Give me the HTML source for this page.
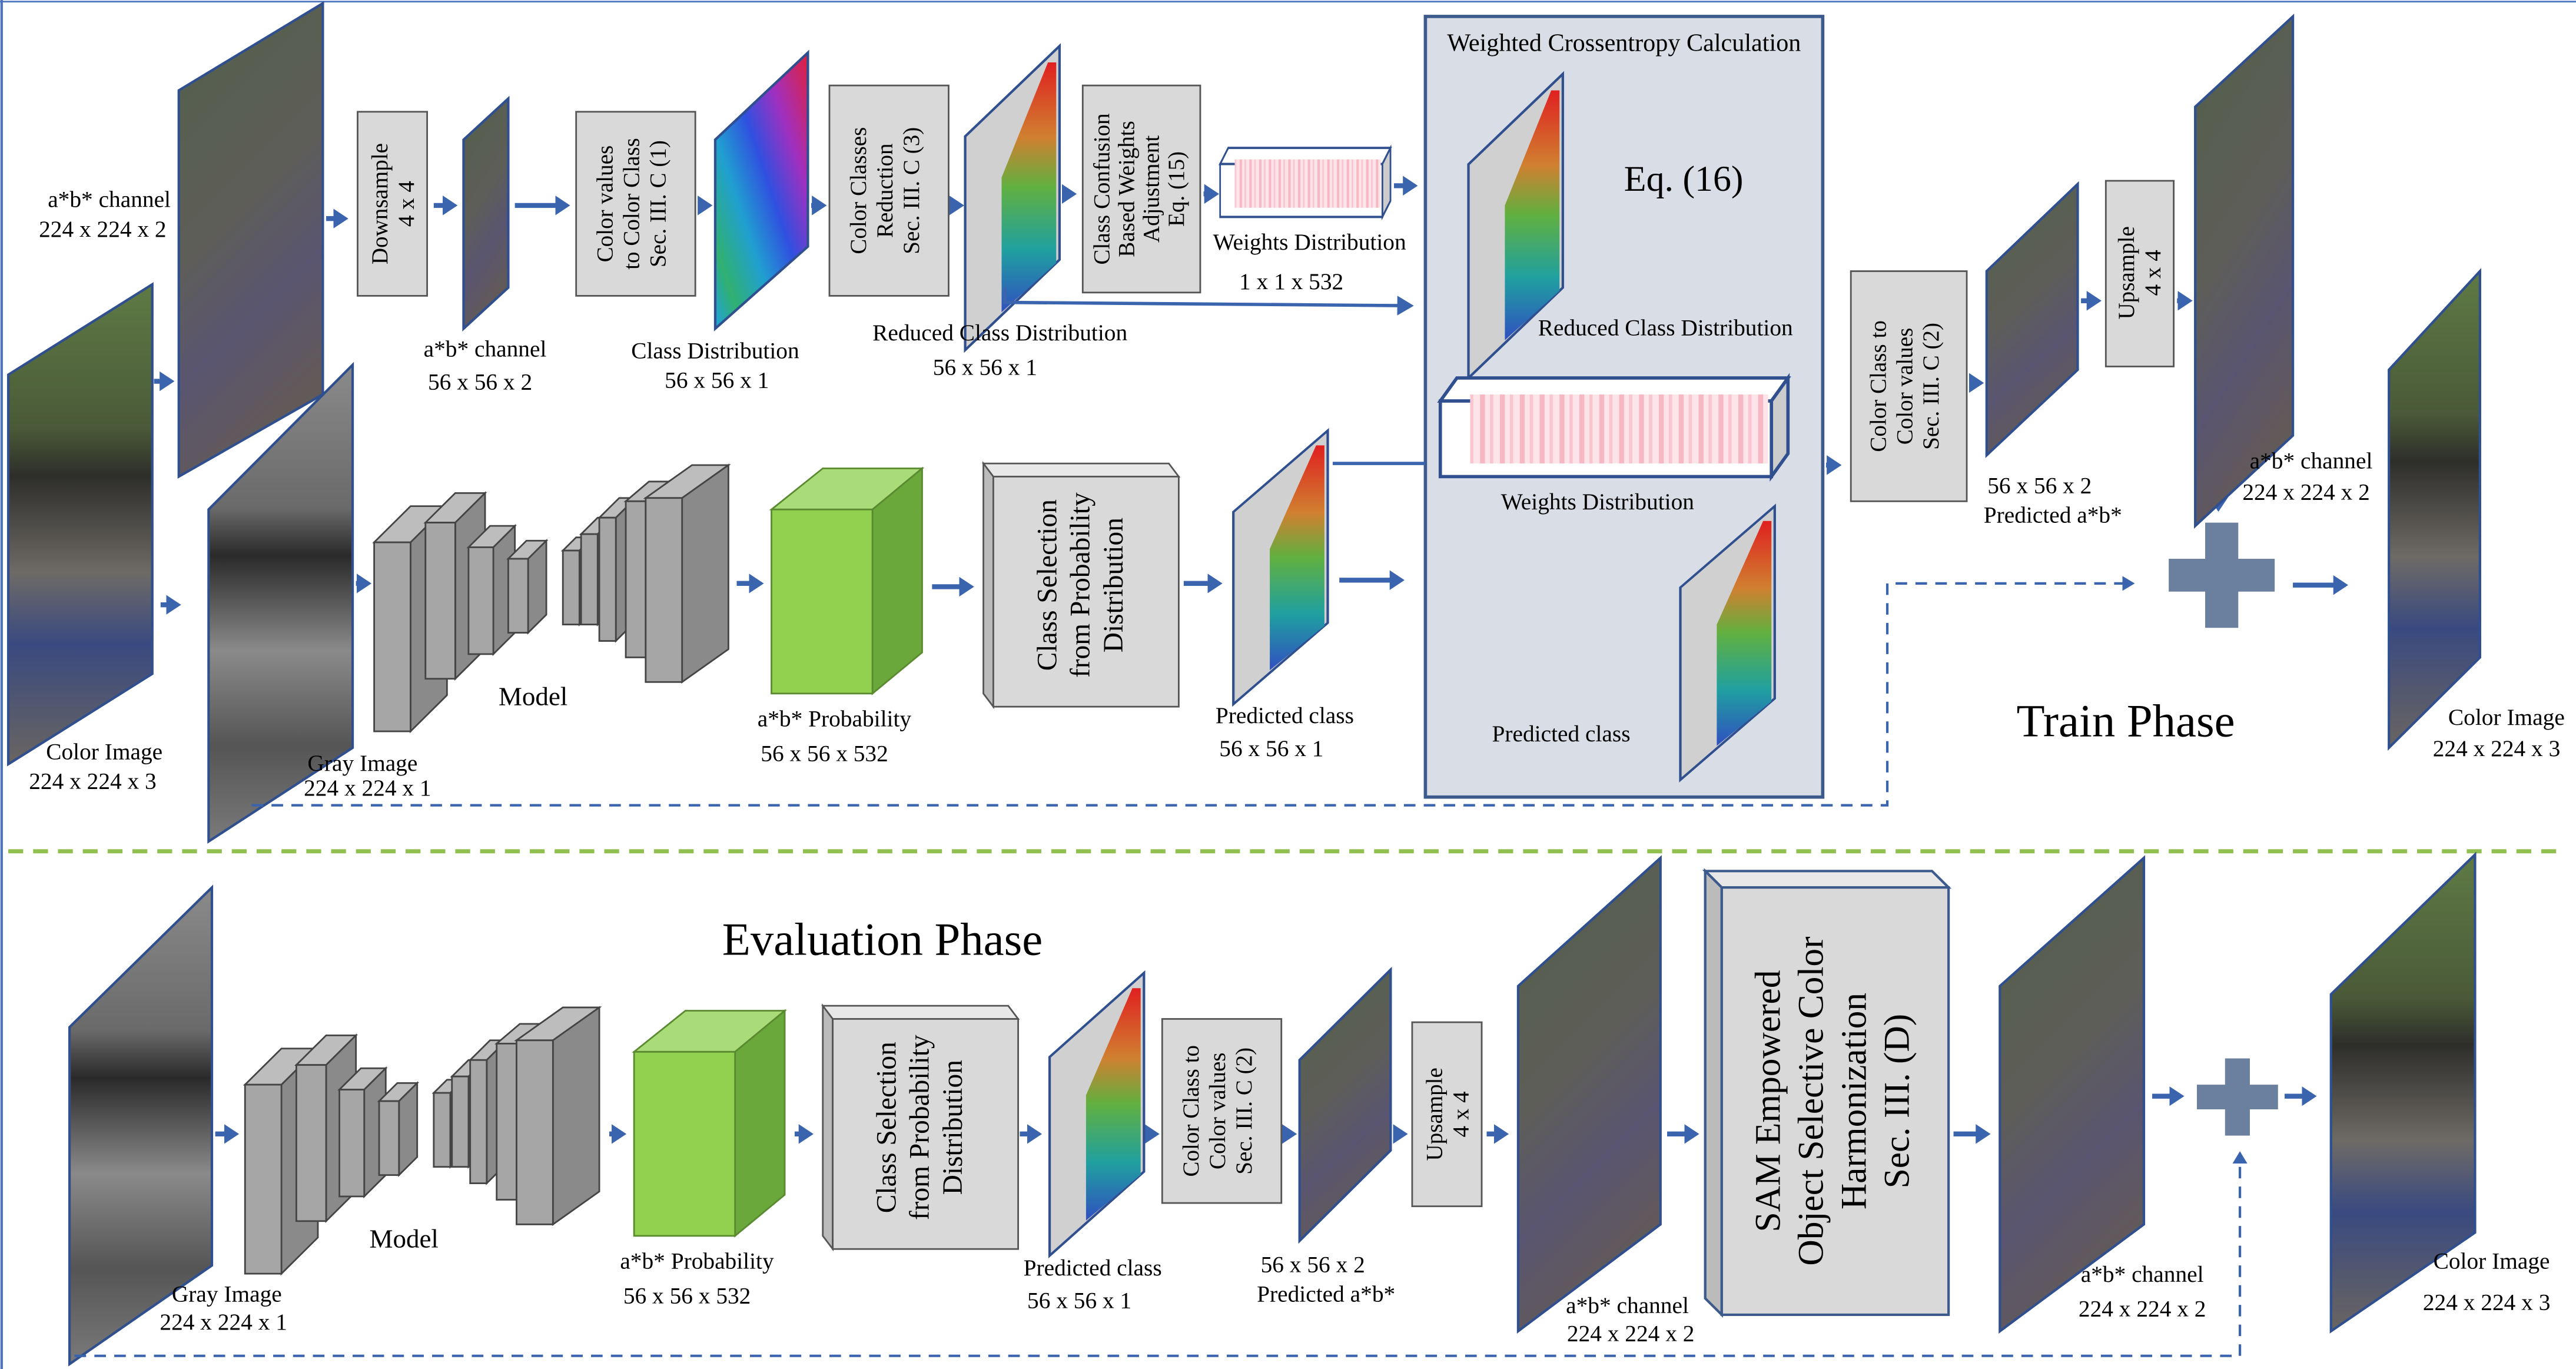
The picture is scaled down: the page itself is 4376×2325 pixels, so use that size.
<!DOCTYPE html>
<html><head><meta charset="utf-8"><style>
html,body{margin:0;padding:0;background:#fff;}
svg{display:block;}
text{font-family:"Liberation Serif",serif;fill:#000;}
</style></head><body>
<svg width="4376" height="2325" viewBox="0 0 1556 833" preserveAspectRatio="none" xmlns="http://www.w3.org/2000/svg">
<defs>
<marker id="ah" markerWidth="4" markerHeight="4" refX="2.2" refY="2" orient="auto" markerUnits="strokeWidth"><path d="M0,0 L3,2 L0,4 z" fill="#3a64ad"/></marker>
<marker id="ah2" markerWidth="6" markerHeight="6" refX="4" refY="3" orient="auto" markerUnits="strokeWidth"><path d="M0,0 L5,3 L0,6 z" fill="#3a64ad"/></marker>
<linearGradient id="ab" x1="0" y1="0" x2="0.3" y2="1"><stop offset="0" stop-color="#52604a"/><stop offset="0.5" stop-color="#5e5e58"/><stop offset="0.75" stop-color="#5a5570"/><stop offset="1" stop-color="#625a58"/></linearGradient>
<linearGradient id="col" x1="0" y1="0" x2="0" y2="1"><stop offset="0" stop-color="#5f7a45"/><stop offset="0.3" stop-color="#4a5a38"/><stop offset="0.4" stop-color="#2e2e2a"/><stop offset="0.6" stop-color="#6e6a66"/><stop offset="0.75" stop-color="#3a4a80"/><stop offset="1" stop-color="#6a6560"/></linearGradient>
<linearGradient id="gry" x1="0" y1="0" x2="0" y2="1"><stop offset="0" stop-color="#8a8a8a"/><stop offset="0.3" stop-color="#6a6a6a"/><stop offset="0.4" stop-color="#2a2a2a"/><stop offset="0.6" stop-color="#8a8a8a"/><stop offset="0.8" stop-color="#555"/><stop offset="1" stop-color="#7a7a7a"/></linearGradient>
<linearGradient id="cd" x1="1" y1="0" x2="0" y2="1"><stop offset="0" stop-color="#e0203a"/><stop offset="0.25" stop-color="#a030c0"/><stop offset="0.45" stop-color="#3050e0"/><stop offset="0.65" stop-color="#20a0d0"/><stop offset="0.85" stop-color="#30b070"/><stop offset="1" stop-color="#20a0e0"/></linearGradient>
<linearGradient id="rd" x1="0" y1="0" x2="0" y2="1"><stop offset="0" stop-color="#e02020"/><stop offset="0.3" stop-color="#d08030"/><stop offset="0.5" stop-color="#60b040"/><stop offset="0.75" stop-color="#20a0a0"/><stop offset="1" stop-color="#3050c0"/></linearGradient>
<pattern id="bars" width="12" height="10" patternUnits="userSpaceOnUse"><rect width="12" height="10" fill="#fde4e8"/><rect x="0" width="3" height="10" fill="#f7b8c4"/><rect x="6" width="2" height="10" fill="#f9c6d0"/></pattern>
<g id="dist">
<polygon points="0,55 57,0 57,130 0,185" fill="#d0d0d0" stroke="#2f4f8f" stroke-width="1.5"/>
<polygon points="22,80 50,10 55,10 55,132 22,162" fill="url(#rd)"/>
</g>
<g id="wbox">
<polygon points="0,14 10,0 210,0 200,14" fill="#fff" stroke="#2f4f8f" stroke-width="2"/>
<polygon points="200,14 210,0 210,46 200,60" fill="#ccc" stroke="#2f4f8f" stroke-width="2"/>
<rect x="0" y="14" width="200" height="46" fill="#fff" stroke="#2f4f8f" stroke-width="2"/>
<rect x="18" y="10" width="180" height="42" fill="url(#bars)"/>
</g>
</defs>

<line x1="1" y1="0" x2="1" y2="833" stroke="#4a74c0" stroke-width="1.5"/>
<line x1="0" y1="1" x2="1556" y2="1" stroke="#4a74c0" stroke-width="1"/>
<line x1="5" y1="518" x2="1550" y2="518" stroke="#92c050" stroke-width="2.5" stroke-dasharray="9,6"/>

<!-- ===== TOP ===== -->
<polygon points="108,55 195,2 195,240 108,290" fill="url(#ab)" stroke="#2f4f8f" stroke-width="1.5"/>
<text x="66" y="126" font-size="14" text-anchor="middle">a*b* channel</text>
<text x="62" y="144" font-size="14" text-anchor="middle">224 x 224 x 2</text>
<polygon points="5,228 92,173 92,410 5,465" fill="url(#col)" stroke="#2f4f8f" stroke-width="1.5"/>
<text x="63" y="462" font-size="14" text-anchor="middle">Color Image</text>
<text x="56" y="480" font-size="14" text-anchor="middle">224 x 224 x 3</text>
<g stroke="#3a64ad" stroke-width="3" marker-end="url(#ah)">
<line x1="93" y1="232" x2="103" y2="232"/>
<line x1="97" y1="368" x2="107" y2="368"/>
<line x1="197" y1="133" x2="208" y2="133"/>
<line x1="262" y1="125" x2="274" y2="125"/>
<line x1="311" y1="125" x2="342" y2="125"/>
<line x1="422" y1="125" x2="428" y2="125"/>
<line x1="490" y1="125" x2="497" y2="125"/>
<line x1="575" y1="125" x2="580" y2="125"/>
<line x1="642" y1="118" x2="648" y2="118"/>
<line x1="727" y1="118" x2="734" y2="118"/>
<line x1="842" y1="113" x2="854" y2="113"/>
<line x1="1103" y1="283" x2="1110" y2="283"/>
<line x1="1190" y1="233" x2="1196" y2="233"/>
<line x1="1257" y1="183" x2="1267" y2="183"/>
<line x1="1315" y1="183" x2="1322" y2="183"/>
<line x1="1340" y1="301" x2="1340" y2="309"/>
<line x1="1385" y1="356" x2="1416" y2="356"/>
<line x1="215" y1="355" x2="222" y2="355"/>
<line x1="445" y1="355" x2="459" y2="355"/>
<line x1="563" y1="357" x2="586" y2="357"/>
<line x1="715" y1="355" x2="736" y2="355"/>
<line x1="809" y1="353" x2="846" y2="353"/>
<line x1="130" y1="690" x2="142" y2="690"/>
<line x1="368" y1="690" x2="376" y2="690"/>
<line x1="480" y1="690" x2="489" y2="690"/>
<line x1="616" y1="690" x2="627" y2="690"/>
<line x1="693" y1="690" x2="698" y2="690"/>
<line x1="776" y1="690" x2="781" y2="690"/>
<line x1="842" y1="690" x2="848" y2="690"/>
<line x1="898" y1="690" x2="909" y2="690"/>
<line x1="1007" y1="690" x2="1024" y2="690"/>
<line x1="1180" y1="690" x2="1200" y2="690"/>
<line x1="1300" y1="667" x2="1317" y2="667"/>
<line x1="1380" y1="667" x2="1397" y2="667"/>
</g>

<rect x="216" y="68" width="42" height="112" fill="#d9d9d9" stroke="#555"/>
<text transform="translate(237,124) rotate(-90)" font-size="14" text-anchor="middle"><tspan x="0" dy="-3">Downsample</tspan><tspan x="0" dy="16">4 x 4</tspan></text>
<polygon points="280,85 307,60 307,175 280,200" fill="url(#ab)" stroke="#2f4f8f" stroke-width="1.5"/>
<text x="293" y="217" font-size="14" text-anchor="middle">a*b* channel</text>
<text x="290" y="237" font-size="14" text-anchor="middle">56 x 56 x 2</text>
<rect x="348" y="68" width="72" height="112" fill="#d9d9d9" stroke="#555"/>
<text transform="translate(384,124) rotate(-90)" font-size="14" text-anchor="middle"><tspan x="0" dy="-14">Color values</tspan><tspan x="0" dy="16">to Color Class</tspan><tspan x="0" dy="16">Sec. III. C (1)</tspan></text>
<polygon points="432,85 488,32 488,150 432,200" fill="url(#cd)" stroke="#2f4f8f" stroke-width="1.5"/>
<text x="432" y="218" font-size="14" text-anchor="middle">Class Distribution</text>
<text x="433" y="236" font-size="14" text-anchor="middle">56 x 56 x 1</text>
<rect x="501" y="52" width="72" height="128" fill="#d9d9d9" stroke="#555"/>
<text transform="translate(537,116) rotate(-90)" font-size="14" text-anchor="middle"><tspan x="0" dy="-14">Color Classes</tspan><tspan x="0" dy="16">Reduction</tspan><tspan x="0" dy="16">Sec. III. C (3)</tspan></text>
<use href="#dist" transform="translate(583,28)"/>
<text x="604" y="207" font-size="14" text-anchor="middle">Reduced Class Distribution</text>
<text x="595" y="228" font-size="14" text-anchor="middle">56 x 56 x 1</text>
<rect x="654" y="52" width="71" height="126" fill="#d9d9d9" stroke="#555"/>
<text transform="translate(690,115) rotate(-90)" font-size="14" text-anchor="middle"><tspan x="0" dy="-20">Class Confusion</tspan><tspan x="0" dy="15">Based Weights</tspan><tspan x="0" dy="15">Adjustment</tspan><tspan x="0" dy="15">Eq. (15)</tspan></text>
<use href="#wbox" transform="translate(737,90) scale(0.49,0.7)"/>
<text x="791" y="152" font-size="14" text-anchor="middle">Weights Distribution</text>
<text x="780" y="176" font-size="14" text-anchor="middle">1 x 1 x 532</text>
<polyline points="607,175 607,184 852,186" fill="none" stroke="#3a64ad" stroke-width="2" marker-end="url(#ah2)"/>

<rect x="861" y="10" width="240" height="475" fill="#d9dde6" stroke="#3c5a8c" stroke-width="2"/>
<text x="981" y="31" font-size="15" text-anchor="middle">Weighted Crossentropy Calculation</text>
<text x="1017" y="116" font-size="22" text-anchor="middle">Eq. (16)</text>
<use href="#dist" transform="translate(887,45)"/>
<text x="1006" y="204" font-size="14" text-anchor="middle">Reduced Class Distribution</text>
<use href="#wbox" transform="translate(870,230)"/>
<text x="965" y="310" font-size="14" text-anchor="middle">Weights Distribution</text>
<use href="#dist" transform="translate(1015,308) scale(1,0.9)"/>
<text x="943" y="451" font-size="14" text-anchor="middle">Predicted class</text>
<line x1="805" y1="282" x2="861" y2="282" stroke="#3a64ad" stroke-width="2"/>

<rect x="1118" y="165" width="70" height="140" fill="#d9d9d9" stroke="#555"/>
<text transform="translate(1153,235) rotate(-90)" font-size="14" text-anchor="middle"><tspan x="0" dy="-14">Color Class to</tspan><tspan x="0" dy="16">Color values</tspan><tspan x="0" dy="16">Sec. III. C (2)</tspan></text>
<polygon points="1200,165 1255,112 1255,225 1200,277" fill="url(#ab)" stroke="#2f4f8f" stroke-width="1.5"/>
<text x="1232" y="300" font-size="14" text-anchor="middle">56 x 56 x 2</text>
<text x="1240" y="318" font-size="14" text-anchor="middle">Predicted a*b*</text>
<rect x="1272" y="110" width="41" height="113" fill="#d9d9d9" stroke="#555"/>
<text transform="translate(1292,166) rotate(-90)" font-size="14" text-anchor="middle"><tspan x="0" dy="-3">Upsample</tspan><tspan x="0" dy="16">4 x 4</tspan></text>
<polygon points="1326,65 1385,10 1385,265 1326,320" fill="url(#ab)" stroke="#2f4f8f" stroke-width="1.5"/>
<text x="1396" y="285" font-size="14" text-anchor="middle">a*b* channel</text>
<text x="1393" y="304" font-size="14" text-anchor="middle">224 x 224 x 2</text>
<path d="M1332,318 h20 v22 h22 v20 h-22 v22 h-20 v-22 h-22 v-20 h22 z" fill="#6b7f9f"/>
<polygon points="1443,225 1498,165 1498,400 1443,455" fill="url(#col)" stroke="#2f4f8f" stroke-width="1.5"/>
<text x="1514" y="441" font-size="14" text-anchor="middle">Color Image</text>
<text x="1508" y="460" font-size="14" text-anchor="middle">224 x 224 x 3</text>
<text x="1284" y="448" font-size="28" text-anchor="middle">Train Phase</text>

<polygon points="126,310 213,222 213,455 126,512" fill="url(#gry)" stroke="#2f4f8f" stroke-width="1.5"/>
<text x="219" y="469" font-size="14" text-anchor="middle">Gray Image</text>
<text x="222" y="484" font-size="14" text-anchor="middle">224 x 224 x 1</text>

<g id="model">
<g fill="#a6a6a6" stroke="#444" stroke-width="1">
<polygon points="226,330 248,308 270,308 248,330" fill="#bdbdbd"/><polygon points="248,330 270,308 270,423 248,445" fill="#8a8a8a"/><rect x="226" y="330" width="22" height="115"/>
<polygon points="257,318 275,300 293,300 275,318" fill="#bdbdbd"/><polygon points="275,318 293,300 293,395 275,413" fill="#8a8a8a"/><rect x="257" y="318" width="18" height="95"/>
<polygon points="283,333 296,320 311,320 298,333" fill="#bdbdbd"/><polygon points="298,333 311,320 311,385 298,398" fill="#8a8a8a"/><rect x="283" y="333" width="15" height="65"/>
<polygon points="307,340 318,329 330,329 319,340" fill="#bdbdbd"/><polygon points="319,340 330,329 330,374 319,385" fill="#8a8a8a"/><rect x="307" y="340" width="12" height="45"/>
<polygon points="340,335 348,327 358,327 350,335" fill="#bdbdbd"/><polygon points="350,335 358,327 358,372 350,380" fill="#8a8a8a"/><rect x="340" y="335" width="10" height="45"/>
<polygon points="351,325 361,315 371,315 361,325" fill="#bdbdbd"/><polygon points="361,325 371,315 371,370 361,380" fill="#8a8a8a"/><rect x="351" y="325" width="10" height="55"/>
<polygon points="362,315 374,303 384,303 372,315" fill="#bdbdbd"/><polygon points="372,315 384,303 384,378 372,390" fill="#8a8a8a"/><rect x="362" y="315" width="10" height="75"/>
<polygon points="378,305 392,293 404,293 390,305" fill="#bdbdbd"/><polygon points="390,305 404,293 404,388 390,400" fill="#8a8a8a"/><rect x="378" y="305" width="12" height="95"/>
<polygon points="390,303 418,283 440,283 412,303" fill="#bdbdbd"/><polygon points="412,303 440,283 440,395 412,415" fill="#8a8a8a"/><rect x="390" y="303" width="22" height="112"/>
</g>
<text x="322" y="429" font-size="16" text-anchor="middle">Model</text>
</g>

<g id="cube">
<polygon points="466,310 497,285 557,285 527,310" fill="#a9dc78" stroke="#5a8a30"/>
<polygon points="527,310 557,285 557,397 527,422" fill="#6aa83c" stroke="#5a8a30"/>
<rect x="466" y="310" width="61" height="112" fill="#92d050" stroke="#5a8a30"/>
<text x="504" y="442" font-size="14" text-anchor="middle">a*b* Probability</text>
<text x="498" y="463" font-size="14" text-anchor="middle">56 x 56 x 532</text>
</g>

<g id="csel">
<polygon points="594,282 600,290 712,290 706,282" fill="#e8e8e8" stroke="#555"/>
<polygon points="594,282 600,290 600,430 594,422" fill="#bbb" stroke="#555"/>
<rect x="600" y="290" width="112" height="140" fill="#d9d9d9" stroke="#555"/>
<text transform="translate(656,356) rotate(-90)" font-size="17" text-anchor="middle"><tspan x="0" dy="-18">Class Selection</tspan><tspan x="0" dy="20">from Probability</tspan><tspan x="0" dy="20">Distribution</tspan></text>
</g>

<use href="#dist" transform="translate(745,262) scale(1,0.9)"/>
<text x="776" y="440" font-size="14" text-anchor="middle">Predicted class</text>
<text x="768" y="460" font-size="14" text-anchor="middle">56 x 56 x 1</text>
<polyline points="152,490 1140,490 1140,355 1288,355" fill="none" stroke="#3a64ad" stroke-width="1.5" stroke-dasharray="7,5" marker-end="url(#ah2)"/>

<!-- ===== BOTTOM ===== -->
<text x="533" y="581" font-size="28" text-anchor="middle">Evaluation Phase</text>
<polygon points="42,625 128,540 128,770 42,830" fill="url(#gry)" stroke="#2f4f8f" stroke-width="1.5"/>
<text x="137" y="792" font-size="14" text-anchor="middle">Gray Image</text>
<text x="135" y="809" font-size="14" text-anchor="middle">224 x 224 x 1</text>
<use href="#model" transform="translate(-78,330)"/>
<use href="#cube" transform="translate(-83,330)"/>
<use href="#csel" transform="translate(-97,330)"/>
<use href="#dist" transform="translate(634,592) scale(1,0.93)"/>
<text x="660" y="776" font-size="14" text-anchor="middle">Predicted class</text>
<text x="652" y="796" font-size="14" text-anchor="middle">56 x 56 x 1</text>
<rect x="702" y="620" width="72" height="112" fill="#d9d9d9" stroke="#555"/>
<text transform="translate(738,676) rotate(-90)" font-size="14" text-anchor="middle"><tspan x="0" dy="-14">Color Class to</tspan><tspan x="0" dy="16">Color values</tspan><tspan x="0" dy="16">Sec. III. C (2)</tspan></text>
<polygon points="785,645 840,590 840,700 785,755" fill="url(#ab)" stroke="#2f4f8f" stroke-width="1.5"/>
<text x="793" y="774" font-size="14" text-anchor="middle">56 x 56 x 2</text>
<text x="801" y="792" font-size="14" text-anchor="middle">Predicted a*b*</text>
<rect x="853" y="622" width="42" height="112" fill="#d9d9d9" stroke="#555"/>
<text transform="translate(874,678) rotate(-90)" font-size="14" text-anchor="middle"><tspan x="0" dy="-3">Upsample</tspan><tspan x="0" dy="16">4 x 4</tspan></text>
<polygon points="917,600 1003,522 1003,745 917,810" fill="url(#ab)" stroke="#2f4f8f" stroke-width="1.5"/>
<text x="983" y="799" font-size="14" text-anchor="middle">a*b* channel</text>
<text x="985" y="816" font-size="14" text-anchor="middle">224 x 224 x 2</text>
<polygon points="1030,530 1040,540 1177,540 1167,530" fill="#e8e8e8" stroke="#3c5a8c" stroke-width="1.5"/>
<polygon points="1030,530 1040,540 1040,800 1030,790" fill="#bbb" stroke="#3c5a8c" stroke-width="1.5"/>
<rect x="1040" y="540" width="137" height="260" fill="#d9d9d9" stroke="#3c5a8c" stroke-width="1.5"/>
<text transform="translate(1108,670) rotate(-90)" font-size="22" text-anchor="middle"><tspan x="0" dy="-33">SAM Empowered</tspan><tspan x="0" dy="26">Object Selective Color</tspan><tspan x="0" dy="26">Harmonization</tspan><tspan x="0" dy="26">Sec. III. (D)</tspan></text>
<polygon points="1208,600 1295,522 1295,745 1208,810" fill="url(#ab)" stroke="#2f4f8f" stroke-width="1.5"/>
<text x="1294" y="780" font-size="14" text-anchor="middle">a*b* channel</text>
<text x="1294" y="801" font-size="14" text-anchor="middle">224 x 224 x 2</text>
<path d="M1344,644 h15 v16 h17 v15 h-17 v16 h-15 v-16 h-17 v-15 h17 z" fill="#6b7f9f"/>
<polygon points="1408,605 1495,520 1495,750 1408,810" fill="url(#col)" stroke="#2f4f8f" stroke-width="1.5"/>
<text x="1505" y="772" font-size="14" text-anchor="middle">Color Image</text>
<text x="1502" y="797" font-size="14" text-anchor="middle">224 x 224 x 3</text>
<polyline points="45,825 1353,825 1353,702" fill="none" stroke="#3a64ad" stroke-width="1.5" stroke-dasharray="7,5" marker-end="url(#ah2)"/>
</svg>
</body></html>
